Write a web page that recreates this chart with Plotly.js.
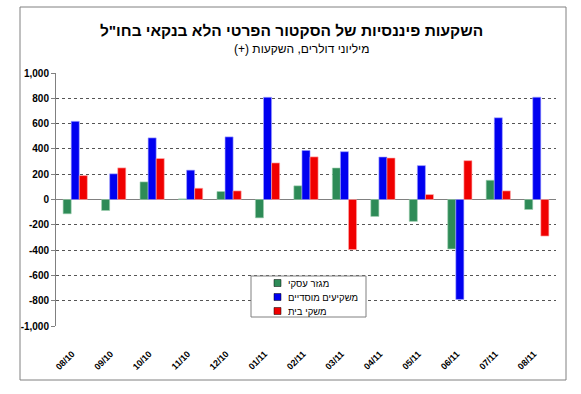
<!DOCTYPE html>
<html>
<head>
<meta charset="utf-8">
<script src="https://cdn.plot.ly/plotly-3.0.1.min.js"></script>
<style>html,body{margin:0;padding:0;background:#fff;}#chart{width:581px;height:394px;}</style>
</head>
<body>
<div id="chart"></div>
<script>
const categories = ['08/10','09/10','10/10','11/10','12/10','01/11','02/11','03/11','04/11','05/11','06/11','07/11','08/11'];
const seriesNames = ['מגזר עסקי', 'משקיעים מוסדיים', 'משקי בית'];
const business = [-113, -87, 139, 5, 63, -145, 108, 249, -134, -173, -391, 152, -79];
const institutional = [618, 203, 487, 232, 495, 808, 388, 378, 336, 268, -790, 646, 809];
const households = [189, 250, 324, 89, 68, 289, 337, -396, 328, 39, 307, 68, -289];
const yTickVals = [-1000, -800, -600, -400, -200, 0, 200, 400, 600, 800, 1000];
const yTickText = ['-1,000', '-800', '-600', '-400', '-200', '0', '200', '400', '600', '800', '1,000'];
const titleText = 'השקעות פיננסיות של הסקטור הפרטי הלא בנקאי בחו"ל';
const subtitleText = '\u202Bמיליוני דולרים, השקעות (+)\u202C';

const colors = ['#2E8B57', '#0000F0', '#F00000'];
const outline = ['#9fd0b0', '#a8a8ff', '#ffb0b0'];
const values = [business, institutional, households];

const traces = values.map((v, i) => ({
  type: 'bar',
  name: seriesNames[i],
  x: categories,
  y: v,
  marker: {color: colors[i], line: {color: outline[i], width: 0.6}},
  showlegend: false,
  hoverinfo: 'x+y+name'
}));

// custom legend (symbol left, text right) in pixel-derived paper coords
const L = 56, PW = 500, PB = 326, PH = 253;
const px = x => (x - L) / PW;
const py = y => (PB - y) / PH;

const shapes = [
  {type: 'rect', xref: 'paper', yref: 'paper', x0: px(20), x1: px(566), y0: py(380), y1: py(7),
   line: {color: '#808080', width: 1}, fillcolor: 'rgba(0,0,0,0)', layer: 'below'},
  {type: 'rect', xref: 'paper', yref: 'paper', x0: px(251), x1: px(366), y0: py(317), y1: py(276),
   line: {color: '#808080', width: 1}, fillcolor: '#ffffff', layer: 'above'}
];
const annotations = [
  {text: subtitleText, xref: 'paper', yref: 'paper', x: px(301), y: py(49), showarrow: false,
   font: {family: 'Liberation Sans, Arial, sans-serif', size: 12, color: '#000'}, xanchor: 'center', yanchor: 'middle'}
];
const rowY = [283, 297, 311];
seriesNames.forEach((n, i) => {
  shapes.push({type: 'rect', xref: 'paper', yref: 'paper', x0: px(274), x1: px(281), y0: py(rowY[i] + 3.5), y1: py(rowY[i] - 3.5),
    fillcolor: colors[i], line: {color: '#000', width: 0.5}, layer: 'above'});
  annotations.push({text: n, xref: 'paper', yref: 'paper', x: px(286), y: py(rowY[i]), showarrow: false,
    xanchor: 'left', yanchor: 'middle', font: {family: 'Liberation Sans, Arial, sans-serif', size: 9.5, color: '#000'}});
});

const layout = {
  width: 581, height: 394,
  margin: {l: 56, r: 25, t: 73, b: 68, pad: 0},
  paper_bgcolor: '#ffffff', plot_bgcolor: '#ffffff',
  title: {text: '<b>' + titleText + '</b>', x: 291.5/581, xref: 'container', xanchor: 'center', y: 1 - 31/394, yref: 'container', yanchor: 'middle',
    font: {family: 'Liberation Sans, Arial, sans-serif', size: 15.5, color: '#000'}},
  barmode: 'group', bargap: 0.37, bargroupgap: 0,
  showlegend: false,
  xaxis: {
    type: 'category', tickangle: -45, showgrid: false, showline: false, zeroline: false,
    ticks: '', ticklabelstandoff: 20, ticklabelshift: -3,
    tickfont: {family: 'Liberation Sans, Arial, sans-serif', size: 9, color: '#000', weight: 'bold'}
  },
  yaxis: {
    range: [-1000, 1000], tickvals: yTickVals, ticktext: yTickText,
    showgrid: true, gridcolor: '#555555', griddash: 'dot', gridwidth: 1,
    zeroline: true, zerolinecolor: '#808080', zerolinewidth: 1,
    showline: true, linecolor: '#808080', linewidth: 1, ticks: 'outside', ticklen: 4, tickcolor: '#808080',
    tickfont: {family: 'Liberation Sans, Arial, sans-serif', size: 10, color: '#000', weight: 'bold'}
  },
  shapes: shapes,
  annotations: annotations,
  font: {family: 'Liberation Sans, Arial, sans-serif'}
};

Plotly.newPlot('chart', traces, layout, {displayModeBar: false, staticPlot: true});
</script>
</body>
</html>
